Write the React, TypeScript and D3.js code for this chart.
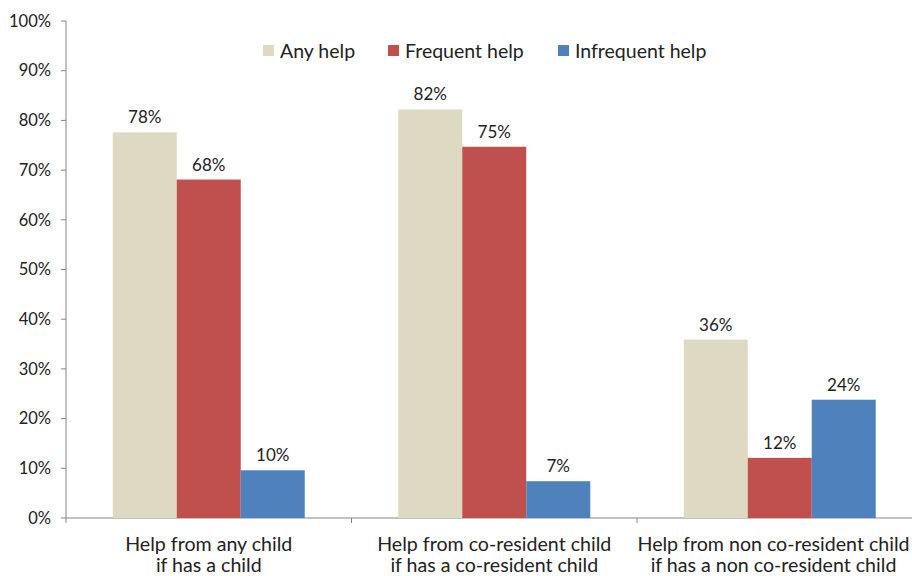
import React from "react";
import * as d3 from "d3";

const categories = [
  ["Help from any child", "if has a child"],
  ["Help from co-resident child", "if has a co-resident child"],
  ["Help from non co-resident child", "if has a non co-resident child"],
];
const seriesNames = ["Any help", "Frequent help", "Infrequent help"];
const seriesColors = ["#DDD9C3", "#C0504D", "#4F81BD"];
const anyHelp = [77.6, 82.2, 35.9];
const frequentHelp = [68.1, 74.7, 12.1];
const infrequentHelp = [9.6, 7.4, 23.8];
const yTicks = [0, 10, 20, 30, 40, 50, 60, 70, 80, 90, 100];

const series = [anyHelp, frequentHelp, infrequentHelp];
const FONT = "Lato, 'Open Sans', sans-serif";

export default function App() {
  const W = 912;
  const left = 66;
  const bandW = 285.5;
  const x = d3
    .scaleBand<number>()
    .domain([0, 1, 2])
    .range([left, left + bandW * 3])
    .paddingInner(0)
    .paddingOuter(0);
  const y = d3.scaleLinear().domain([0, 100]).range([518, 21]);
  const barW = 64;
  const axisColor = "#868686";
  const labelHalf = 138.5;

  return (
    <svg
      width={W}
      height={576}
      style={{ position: "absolute", left: 0, top: 0, background: "#fff" }}
      fontFamily={FONT}
    >
      {/* y axis */}
      <line x1={left} x2={left} y1={y(100)} y2={y(0)} stroke={axisColor} strokeWidth={1} />
      {yTicks.map((t) => (
        <g key={t}>
          <line x1={left - 5} x2={left} y1={y(t)} y2={y(t)} stroke={axisColor} />
          <text x={51} y={y(t)} dy="0.35em" textAnchor="end" fontSize={16.5} fill="#222">
            {t}%
          </text>
        </g>
      ))}
      {/* x axis */}
      <line x1={left} x2={left + bandW * 3} y1={y(0)} y2={y(0)} stroke={axisColor} />
      {[0, 1, 2, 3].map((i) => (
        <line
          key={i}
          x1={left + bandW * i}
          x2={left + bandW * i}
          y1={y(0)}
          y2={y(0) + 5}
          stroke={axisColor}
        />
      ))}
      {/* bars */}
      {categories.map((c, ci) => {
        const cx = (x(ci) as number) + x.bandwidth() / 2;
        const start = cx - (barW * 3) / 2;
        const lc = Math.min(cx, W - labelHalf);
        return (
          <g key={ci}>
            {series.map((s, si) => {
              const v = s[ci];
              const bx = start + si * barW;
              return (
                <g key={si}>
                  <rect x={bx} y={y(v)} width={barW} height={y(0) - y(v)} fill={seriesColors[si]} />
                  <text
                    x={bx + barW / 2}
                    y={y(v) - 9}
                    textAnchor="middle"
                    fontSize={17}
                    fill="#222"
                  >
                    {Math.round(v)}%
                  </text>
                </g>
              );
            })}
            <text x={lc} y={551} textAnchor="middle" fontSize={19.6} fill="#222">
              {c[0]}
            </text>
            <text x={lc} y={572} textAnchor="middle" fontSize={19.6} fill="#222">
              {c[1]}
            </text>
          </g>
        );
      })}
      {/* legend */}
      {seriesNames.map((n, i) => {
        const lx = [263, 388, 558][i];
        return (
          <g key={n}>
            <rect x={lx} y={45} width={11} height={11} fill={seriesColors[i]} />
            <text x={lx + 17} y={51} dy="0.35em" fontSize={19.5} fill="#222">
              {n}
            </text>
          </g>
        );
      })}
    </svg>
  );
}
